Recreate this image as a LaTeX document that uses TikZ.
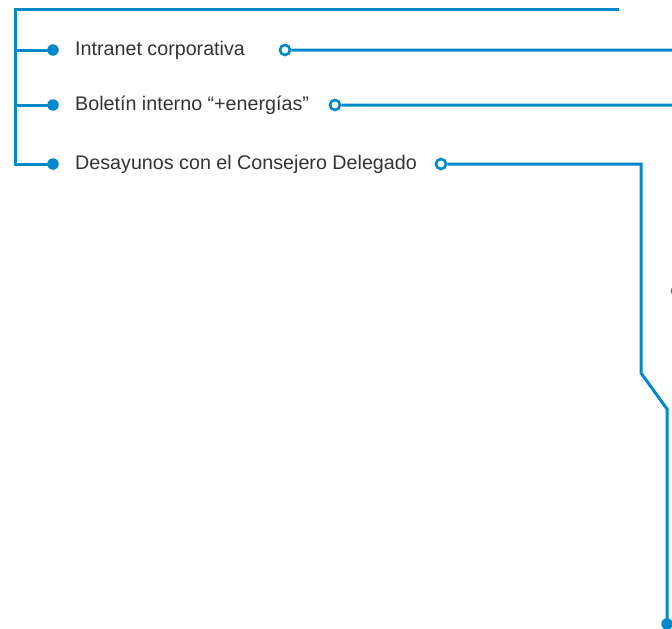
\documentclass[tikz,border=0pt]{standalone}
\usepackage{fontspec}
\setmainfont{Liberation Sans}
\usetikzlibrary{positioning}
\definecolor{linkblue}{RGB}{0,137,200}
\definecolor{textgray}{RGB}{51,51,51}

\begin{document}
\begin{tikzpicture}[x=1pt,y=-1pt,
  wire/.style={draw=linkblue,line width=3pt},
  bullet/.style={circle,fill=linkblue,inner sep=0pt,minimum size=11.5pt},
  ring/.style={circle,draw=linkblue,fill=white,line width=2.6pt,inner sep=0pt,minimum size=10pt},
  item/.style={anchor=west,inner sep=0pt,text=textgray,font=\fontsize{19.7}{22}\selectfont}]

\useasboundingbox (0,0) rectangle (672,629);
\clip (0,0) rectangle (672,629);

% left bracket
\coordinate (top) at (619,9);
\coordinate (corner) at (15,9);
\coordinate (b1) at (15,50);
\coordinate (b2) at (15,105);
\coordinate (b3) at (15,164);

\node (d1) [bullet] at (53,50) {};
\node (d2) [bullet] at (53,105) {};
\node (d3) [bullet] at (53,164) {};

\node (t1) [item] at (75,50) {Intranet corporativa};
\node (t2) [item] at (75,105) {Boletín interno “+energías”};
\node (t3) [item] at (75,164) {Desayunos con el Consejero Delegado};

\path[wire]
(top) -- (corner) -- (b3) -- (d3.center)
(b1) -- (d1.center)
(b2) -- (d2.center);

% outgoing lines
\coordinate (e1) at (672,50);
\coordinate (e2) at (672,105);
\coordinate (k1) at (641,164);
\coordinate (k2) at (641,373);
\coordinate (k3) at (667,409);

\node (r1) [ring] at (285,50) {};
\node (r2) [ring] at (335,105) {};
\node (r3) [ring] at (441,164) {};
\node (end) [bullet] at (667,624) {};
\node (r4) [ring] at (677,291) {};

\path[wire]
(r1) -- (e1)
(r2) -- (e2)
(r3) -- (k1) -- (k2) -- (k3) -- (end.center);

\end{tikzpicture}
\end{document}
